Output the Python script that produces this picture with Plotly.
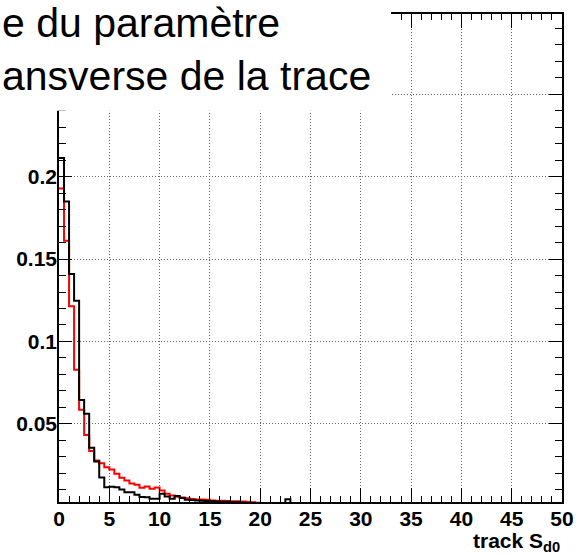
import numpy as np
import plotly.graph_objs as go

# bins of 0.5 from 0 to 50 (lower edges)
bin_lo = np.arange(0, 50, 0.5)

black_vals = [
    0.2114, 0.1849, 0.1409, 0.1247, 0.0645, 0.0561, 0.0355, 0.0272, 0.0175, 0.0116,
    0.0118, 0.0115, 0.0102, 0.0085, 0.0085, 0.0070, 0.0056, 0.0055, 0.0045, 0.0045,
    0.0076, 0.0060, 0.0045, 0.0062, 0.0050, 0.0040, 0.0038, 0.0035, 0.0033, 0.0032,
    0.0030, 0.0029, 0.0028, 0.0027, 0.0025, 0.0024, 0.0022, 0.0020, 0.0018, 0.0016,
    0.0015, 0.0014, 0.0013, 0.0012, 0.0012, 0.0043, 0.0010, 0.0010, 0.0009, 0.0009,
    0.0008, 0.0008, 0.0007, 0.0007, 0.0006, 0.0006, 0.0006, 0.0005, 0.0005, 0.0005,
    0.0004, 0.0004, 0.0004, 0.0004, 0.0003, 0.0003, 0.0003, 0.0003, 0.0003, 0.0002,
    0.0002, 0.0002, 0.0002, 0.0002, 0.0002, 0.0002, 0.0001, 0.0001, 0.0001, 0.0001,
    0.0001, 0.0001, 0.0001, 0.0001, 0.0001, 0.0001, 0.0001, 0.0001, 0.0001, 0.0001,
    0.0001, 0.0001, 0.0001, 0.0001, 0.0001, 0.0001, 0.0001, 0.0001, 0.0001, 0.0001,
]

red_vals = [
    0.1928, 0.1611, 0.1213, 0.0829, 0.0585, 0.0432, 0.0336, 0.0278, 0.0261, 0.0237,
    0.0223, 0.0197, 0.0173, 0.0156, 0.0138, 0.0130, 0.0112, 0.0120, 0.0106, 0.0114,
    0.0096, 0.0076, 0.0065, 0.0058, 0.0053, 0.0049, 0.0044, 0.0041, 0.0041, 0.0039,
    0.0035, 0.0034, 0.0033, 0.0032, 0.0031, 0.0030, 0.0029, 0.0028, 0.0024, 0.0022,
    0.0020, 0.0018, 0.0017, 0.0016, 0.0015, 0.0014, 0.0013, 0.0012, 0.0011, 0.0010,
    0.0009, 0.0009, 0.0008, 0.0008, 0.0007, 0.0007, 0.0006, 0.0006, 0.0005, 0.0005,
    0.0005, 0.0004, 0.0004, 0.0004, 0.0003, 0.0003, 0.0003, 0.0003, 0.0003, 0.0002,
    0.0002, 0.0002, 0.0002, 0.0002, 0.0002, 0.0002, 0.0001, 0.0001, 0.0001, 0.0001,
    0.0001, 0.0001, 0.0001, 0.0001, 0.0001, 0.0001, 0.0001, 0.0001, 0.0001, 0.0001,
    0.0001, 0.0001, 0.0001, 0.0001, 0.0001, 0.0001, 0.0001, 0.0001, 0.0001, 0.0001,
]

x_ticks = [0, 5, 10, 15, 20, 25, 30, 35, 40, 45, 50]
y_ticks = [0.05, 0.1, 0.15, 0.2, 0.25]
y_labels = ['0.05', '0.1', '0.15', '0.2', '0.25']

title_lines = ['e du paramètre', 'ansverse de la trace']
x_title = 'track S<sub>d0</sub>'

W, H = 586, 554
ml, mr, mt, mb = 59, 18, 13, 52
pw, ph = W - ml - mr, H - mt - mb


def px_x(p):
    return (p - ml) / pw


def px_y(p):
    return (H - mb - p) / ph


x_edges = list(bin_lo) + [50]

trace_red = go.Scatter(
    x=x_edges, y=red_vals + [red_vals[-1]],
    mode='lines', line=dict(color='#ff0000', width=2, shape='hv'),
    showlegend=False, hoverinfo='skip'
)
trace_black = go.Scatter(
    x=x_edges, y=black_vals + [black_vals[-1]],
    mode='lines', line=dict(color='#000000', width=2, shape='hv'),
    showlegend=False, hoverinfo='skip'
)

tick_font = dict(family='Liberation Sans, Arial, sans-serif', size=21,
                 color='black', weight='bold')

layout = go.Layout(
    width=W, height=H,
    margin=dict(l=ml, r=mr, t=mt, b=mb, pad=0),
    paper_bgcolor='white', plot_bgcolor='white',
    xaxis=dict(
        range=[0, 50], tickvals=x_ticks, ticktext=[str(v) for v in x_ticks],
        ticks='inside', ticklen=14, tickwidth=1, tickcolor='black',
        minor=dict(dtick=1, tick0=0, ticks='inside', ticklen=6,
                   tickcolor='black', showgrid=False),
        showline=True, linecolor='black', linewidth=1.5, mirror='allticks',
        showgrid=True, gridcolor='#666666', griddash='1px,2px', gridwidth=1,
        zeroline=False, tickfont=tick_font, ticklabelstandoff=-3,
    ),
    yaxis=dict(
        range=[0.0026, 0.2987], tickvals=y_ticks, ticktext=y_labels,
        ticks='inside', ticklen=13, tickwidth=1, tickcolor='black',
        minor=dict(dtick=0.01, tick0=0, ticks='inside', ticklen=7,
                   tickcolor='black', showgrid=False),
        showline=True, linecolor='black', linewidth=1.5, mirror='allticks',
        showgrid=True, gridcolor='#666666', griddash='1px,2px', gridwidth=1,
        zeroline=False, tickfont=tick_font, ticklabelstandoff=-4,
    ),
    shapes=[dict(
        type='rect', xref='paper', yref='paper', layer='above',
        x0=px_x(-5), x1=px_x(395), y0=px_y(110), y1=px_y(-5),
        fillcolor='white', line=dict(width=0)
    )],
    annotations=[
        dict(
            text='<br>'.join(title_lines), xref='paper', yref='paper',
            x=px_x(-1), y=px_y(-3), xanchor='left', yanchor='top', align='left',
            showarrow=False,
            font=dict(family='Liberation Sans, Arial, sans-serif', size=41, color='black')
        ),
        dict(
            text=x_title, xref='paper', yref='paper',
            x=px_x(568), y=px_y(527), xanchor='right', yanchor='top',
            showarrow=False,
            font=dict(family='Liberation Sans, Arial, sans-serif', size=21,
                      color='black', weight='bold')
        ),
    ],
)

fig = go.Figure(data=[trace_red, trace_black], layout=layout)
fig.write_html('out.html', config={'displayModeBar': False},
               post_script="document.body.style.margin='0';")
